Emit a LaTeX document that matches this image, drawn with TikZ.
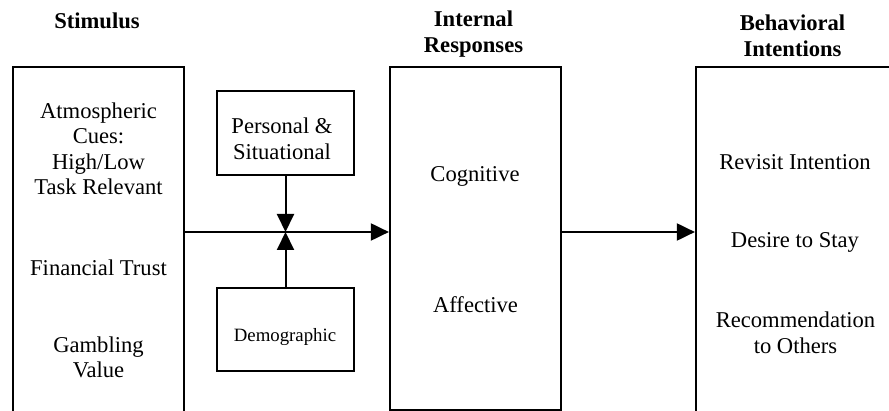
\documentclass[tikz,border=0pt]{standalone}
\usepackage{fontspec}
\setmainfont{Liberation Serif}
\usetikzlibrary{arrows.meta}

\begin{document}
\begin{tikzpicture}[x=0.5pt,y=-0.5pt,
    box/.style={draw,line width=1.1pt,inner sep=0pt},
    lbl/.style={align=center,inner sep=0pt,font=\fontsize{11.3}{12.8}\selectfont},
    head/.style={align=center,inner sep=0pt,font=\fontsize{11.3}{13}\selectfont\bfseries},
    arr/.style={line width=1pt,-{Triangle[length=9pt,width=8.5pt]}}]
            \useasboundingbox (0,0) rectangle (889,411);
            \clip (0,0) rectangle (889,411);

            % headings
            \node[head] (hstim) at (97,20.5) {Stimulus};
            \node[head] (hint) at (473.5,34) {Internal\\Responses};
            \node[head] (hbeh) at (792.5,36) {Behavioral\\Intentions};

            % boxes
            \node[box,minimum width=85.5pt,minimum height=186.5pt] (stim) at (98.5,253.5) {};
            \node[box,minimum width=68.5pt,minimum height=42pt] (pers) at (285.5,133) {};
            \node[box,minimum width=68.5pt,minimum height=41.5pt] (demo) at (285.5,329.5) {};
            \node[box,minimum width=85.5pt,minimum height=171.5pt] (int) at (475.5,238.5) {};
            \node[box,minimum width=117pt,minimum height=186.5pt] (beh) at (813,253.5) {};

            % texts
            \node[lbl] (atmo) at (98.5,148.8) {Atmospheric\\Cues:\\High/Low\\Task Relevant};
            \node[lbl] (trust) at (98.5,267.3) {Financial Trust};
            \node[lbl] (gamble) at (98.5,357.5) {Gambling\\Value};
            \node[lbl] (persit) at (282,139) {Personal \&\\Situational};
            \node[lbl,font=\fontsize{9.4}{11}\selectfont] (demtxt) at (285,337) {Demographic};
            \node[lbl] (cog) at (475,176) {Cognitive};
            \node[lbl] (aff) at (475.5,304.7) {Affective};
            \node[lbl] (revisit) at (795,162) {Revisit Intention};
            \node[lbl] (stay) at (795,242.7) {Desire to Stay};
            \node[lbl] (recom) at (795.5,332.5) {Recommendation\\to Others};

            % connectors
            \coordinate (J) at (285.5,232);
            \draw[arr] (stim.east |- J) -- (int.west |- J);
            \draw[arr] (int.east |- J) -- (beh.west |- J);
            \draw[arr] (pers.south) -- (J);
            \draw[arr] (demo.north) -- (J);
\end{tikzpicture}
\end{document}
